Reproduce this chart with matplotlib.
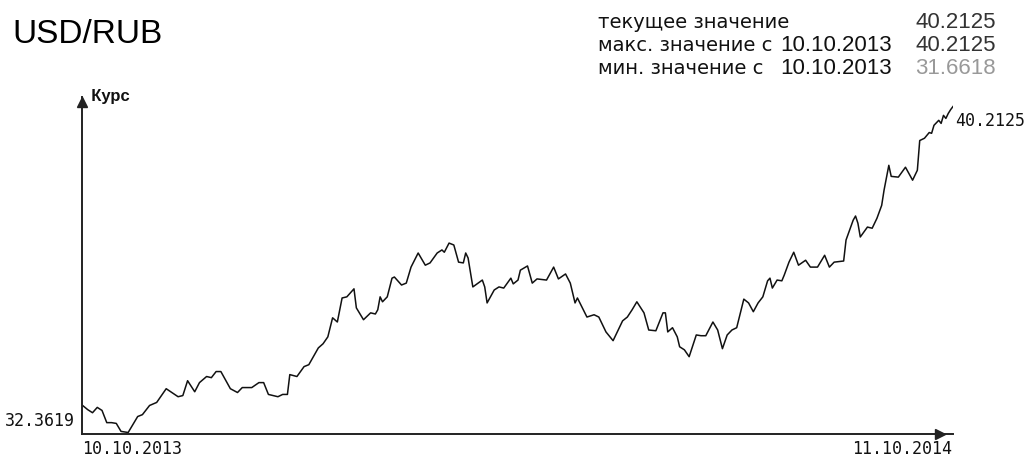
import numpy as np
import matplotlib
matplotlib.use("Agg")
import matplotlib.pyplot as plt

# USD/RUB daily rate, days counted from 10.10.2013
days = [0, 2, 4, 6, 8, 10, 12, 14, 16, 19,
        21, 23, 25, 28, 31, 35, 40, 42, 44, 47,
        49, 52, 54, 56, 58, 62, 65, 67, 71, 74,
        76, 78, 82, 84, 86, 87, 90, 93, 95, 99,
        101, 103, 105, 107, 109, 111, 114, 115, 118, 121,
        123, 124, 125, 126, 128, 130, 131, 134, 136, 138,
        141, 144, 146, 149, 151, 152, 154, 156, 158, 160,
        161, 162, 164, 168, 169, 170, 173, 175, 177, 180,
        181, 183, 184, 187, 189, 191, 195, 198, 200, 203,
        205, 207, 208, 212, 215, 217, 220, 223, 227, 229,
        231, 233, 236, 238, 241, 244, 245, 246, 248, 250,
        251, 253, 255, 258, 260, 262, 265, 267, 269, 271,
        273, 275, 278, 280, 282, 284, 286, 288, 289, 290,
        292, 294, 295, 297, 299, 301, 304, 306, 309, 312,
        314, 316, 320, 321, 324, 325, 326, 327, 330, 332,
        334, 336, 337, 339, 340, 343, 346, 349, 351, 352,
        354, 356, 357, 358, 360, 361, 362, 363, 364, 365,
        366]

rates = [32.3619, 32.26, 32.18, 32.32, 32.24, 31.92, 31.92, 31.90, 31.69, 31.6618,
         31.87, 32.08, 32.13, 32.37, 32.45, 32.81, 32.60, 32.63, 33.02, 32.73,
         32.97, 33.13, 33.10, 33.26, 33.26, 32.81, 32.71, 32.84, 32.84, 32.97,
         32.97, 32.66, 32.60, 32.66, 32.66, 33.18, 33.13, 33.39, 33.44, 33.88,
         33.99, 34.17, 34.67, 34.56, 35.19, 35.22, 35.43, 34.93, 34.62, 34.80,
         34.77, 34.88, 35.22, 35.09, 35.22, 35.71, 35.74, 35.53, 35.58, 36.00,
         36.37, 36.05, 36.11, 36.37, 36.45, 36.39, 36.63, 36.58, 36.13, 36.11,
         36.37, 36.24, 35.48, 35.66, 35.48, 35.06, 35.40, 35.48, 35.45, 35.71,
         35.56, 35.66, 35.92, 36.03, 35.58, 35.69, 35.66, 36.00, 35.69, 35.82,
         35.58, 35.06, 35.19, 34.69, 34.75, 34.69, 34.30, 34.07, 34.59, 34.69,
         34.88, 35.09, 34.80, 34.35, 34.33, 34.80, 34.80, 34.30, 34.41, 34.17,
         33.91, 33.83, 33.65, 34.22, 34.20, 34.20, 34.56, 34.35, 33.86, 34.22,
         34.35, 34.41, 35.16, 35.06, 34.83, 35.06, 35.22, 35.64, 35.71, 35.45,
         35.66, 35.64, 35.79, 36.13, 36.39, 36.05, 36.18, 36.00, 36.00, 36.31,
         36.00, 36.13, 36.16, 36.71, 37.23, 37.34, 37.15, 36.79, 37.05, 37.02,
         37.28, 37.62, 38.02, 38.67, 38.38, 38.36, 38.62, 38.28, 38.54, 39.32,
         39.38, 39.53, 39.51, 39.72, 39.85, 39.77, 39.98, 39.90, 40.03, 40.13,
         40.2125]

title = "USD/RUB"
y_label = "Курс"
start_date, end_date = "10.10.2013", "11.10.2014"
start_label, end_label = "32.3619", "40.2125"
info_labels = ["текущее значение", "макс. значение с", "мин. значение с"]
info_dates = ["", "10.10.2013", "10.10.2013"]
info_values = ["40.2125", "40.2125", "31.6618"]
info_colors = ["#333333", "#333333", "#999999"]

W, H = 1030, 457
fig = plt.figure(figsize=(W / 100, H / 100), dpi=100)


def fx(x):
    return x / W


def fy(y):
    return 1 - y / H


# axes box in pixels: x 82..953, y 97..434
ax = fig.add_axes([fx(82), fy(434), fx(953 - 82), (434 - 97) / H])
ax.plot(days, rates, color="#111111", lw=1.1)
ax.set_xlim(-0.42, 366)
ax.set_ylim(31.622, 40.462)
ax.axis("off")

# axis lines with arrowheads
ax_col = "#222222"
ax.plot([0, 0.9995], [0, 0], transform=ax.transAxes, color=ax_col, lw=1.4, clip_on=False)
ax.plot([0, 0], [0, 1], transform=ax.transAxes, color=ax_col, lw=1.4, clip_on=False)
ax.plot([0.985], [0], marker=">", ms=6.5, color=ax_col, transform=ax.transAxes, clip_on=False)
ax.plot([0], [0.985], marker="^", ms=6.5, color=ax_col, transform=ax.transAxes, clip_on=False)

mono = "DejaVu Sans Mono"
ax.annotate(start_label, xy=(days[0], rates[0]), xytext=(-8, -6), textcoords="offset pixels",
            ha="right", va="top", fontsize=12, family=mono, color="#111111")
ax.annotate(end_label, xy=(days[-1], rates[-1]), xytext=(2, -5), textcoords="offset pixels",
            ha="left", va="top", fontsize=12, family=mono, color="#111111")
ax.annotate(start_date, xy=(0, 0), xycoords="axes fraction", xytext=(0, -6),
            textcoords="offset pixels", ha="left", va="top", fontsize=12, family=mono,
            color="#111111")
ax.annotate(end_date, xy=(0.9988, 0), xycoords="axes fraction", xytext=(0, -6),
            textcoords="offset pixels", ha="right", va="top", fontsize=12, family=mono,
            color="#111111")
ax.text(0, 1, "  " + y_label, transform=ax.transAxes, ha="left", va="center",
        fontsize=12, family="Liberation Sans", fontweight="bold", color="#111111")

fig.text(fx(12), fy(43), title, fontsize=24, family="Liberation Sans", va="baseline")

for i in range(3):
    yb = fy(28 + 23 * i)
    fig.text(fx(598), yb, info_labels[i], fontsize=14, family="DejaVu Sans",
             va="baseline", color="#111111")
    if info_dates[i]:
        fig.text(fx(892), yb, info_dates[i], fontsize=16, family="Liberation Sans",
                 va="baseline", ha="right", color="#111111")
    fig.text(fx(996), yb, info_values[i], fontsize=16, family="Liberation Sans",
             va="baseline", ha="right", color=info_colors[i])

fig.savefig("out.png", dpi=100)
